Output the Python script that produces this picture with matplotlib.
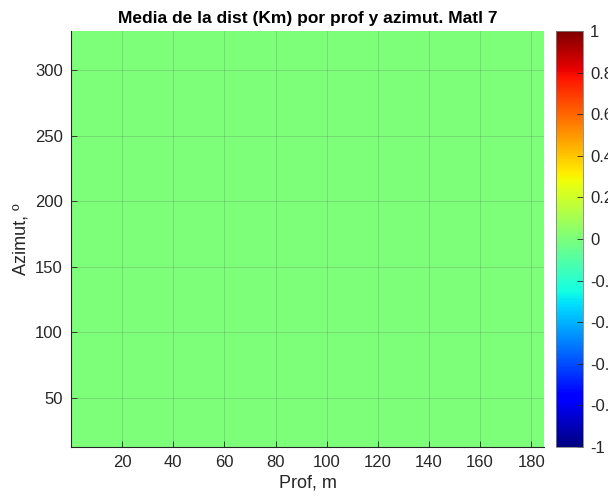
import numpy as np
import matplotlib
matplotlib.use("Agg")
import matplotlib.pyplot as plt
from matplotlib.colors import Normalize

plt.rcParams['font.family'] = ['Liberation Sans', 'DejaVu Sans']

# Data: bin edges (depth, azimuth) and mean distance values (all zero)
prof_edges = [0, 20, 40, 60, 80, 100, 120, 140, 160, 185]
azimut_edges = [12.5, 57.5, 102.5, 147.5, 192.5, 237.5, 282.5, 330]
media_dist = [
    [0, 0, 0, 0, 0, 0, 0, 0, 0],
    [0, 0, 0, 0, 0, 0, 0, 0, 0],
    [0, 0, 0, 0, 0, 0, 0, 0, 0],
    [0, 0, 0, 0, 0, 0, 0, 0, 0],
    [0, 0, 0, 0, 0, 0, 0, 0, 0],
    [0, 0, 0, 0, 0, 0, 0, 0, 0],
    [0, 0, 0, 0, 0, 0, 0, 0, 0],
]
xticks = [20, 40, 60, 80, 100, 120, 140, 160, 180]
yticks = [50, 100, 150, 200, 250, 300]
cbar_ticks = [-1, -0.8, -0.6, -0.4, -0.2, 0, 0.2, 0.4, 0.6, 0.8, 1]
cbar_labels = ['-1', '-0.8', '-0.6', '-0.4', '-0.2', '0', '0.2', '0.4', '0.6', '0.8', '1']

W, H = 608, 499
fig = plt.figure(figsize=(W/100, H/100), dpi=100)
txt = '#262626'

ax = fig.add_axes([71/W, 1-447/H, (544-71)/W, (447-31)/H])
norm = Normalize(vmin=-1, vmax=1)
mesh = ax.pcolormesh(prof_edges, azimut_edges, np.array(media_dist, dtype=float),
                     cmap='jet', norm=norm, shading='flat')
ax.set_xlim(0, 185)
ax.set_ylim(12.5, 330)
ax.set_xticks(xticks)
ax.set_yticks(yticks)
ax.grid(True, color='#4a4a4a', alpha=0.22, linewidth=0.6)
ax.set_axisbelow(False)
for s in ['top', 'right']:
    ax.spines[s].set_visible(False)
for s in ['left', 'bottom']:
    ax.spines[s].set_color(txt)
    ax.spines[s].set_linewidth(0.8)
ax.tick_params(direction='in', length=4, width=0.6, colors=txt, labelsize=12, pad=6)
ax.set_xlabel('Prof, m', fontsize=13, color=txt, labelpad=3)
ax.set_ylabel('Azimut, º', fontsize=13, color=txt, labelpad=4)
ax.set_title('Media de la dist (Km) por prof y azimut. Matl 7', fontsize=12.5,
             fontweight='bold', color='black', pad=6)

cax = fig.add_axes([556/W, 1-447/H, 27/W, (447-31)/H])
cb = fig.colorbar(mesh, cax=cax)
cb.set_ticks(cbar_ticks)
cb.set_ticklabels(cbar_labels)
cb.outline.set_edgecolor('#808080')
cb.outline.set_linewidth(0.6)
cax.tick_params(direction='in', length=4, width=0.6, colors=txt, labelsize=12, pad=5)

fig.savefig('out.png', dpi=100)
